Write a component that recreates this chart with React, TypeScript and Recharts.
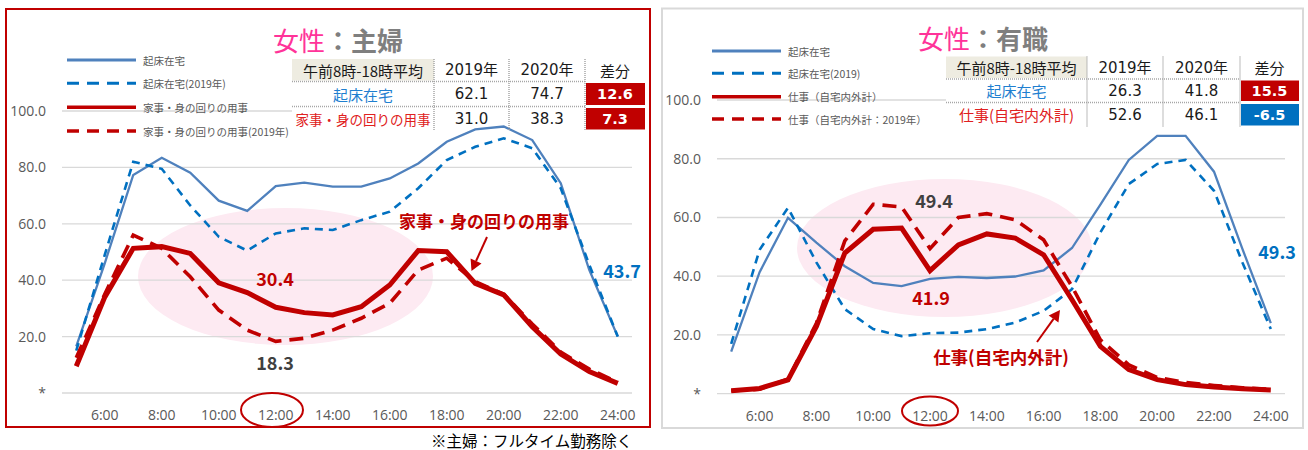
import React from "react";
import { LineChart, Line, XAxis, YAxis, CartesianGrid } from "recharts";

const HOURS = [5, 6, 7, 8, 9, 10, 11, 12, 13, 14, 15, 16, 17, 18, 19, 20, 21, 22, 23, 24];
const HOUR_TICKS = [6, 8, 10, 12, 14, 16, 18, 20, 22, 24];
const PCT_TICKS = [0, 20, 40, 60, 80, 100];

// 女性：主婦
const HW_HOME_2020 = [16.5, 46, 77.3, 83.4, 78.1, 68.2, 64.6, 73.4, 74.6, 73.2, 73.2, 76.1, 81.4, 89.1, 93.5, 94.5, 89.7, 74.4, 43.7, 20.0];
const HW_HOME_2019 = [15, 49, 82, 79.5, 66.5, 55.4, 50.5, 56.6, 58.4, 57.8, 61.3, 64.3, 72.6, 82.6, 87.3, 90.3, 86.8, 72.6, 45.5, 20];
const HW_CHORES_2020 = [9.5, 34, 51.3, 51.9, 49.5, 39.1, 35.6, 30.4, 28.5, 27.7, 30.6, 38.3, 50.5, 50.1, 38.9, 34.8, 23.5, 13.8, 7.6, 3.4];
const HW_CHORES_2019 = [12.5, 35, 56, 51.3, 41.2, 29.4, 22.3, 18.3, 19.4, 22.3, 26.5, 31.8, 43.6, 47.8, 39.5, 35, 24.5, 14.5, 8.5, 3.8];

// 女性：有職
const EMP_HOME_2020 = [14.3, 41.4, 59.9, 51.4, 43.4, 37.7, 36.6, 39.1, 39.8, 39.4, 39.9, 42, 49.6, 64.4, 79.6, 87.8, 87.8, 75.6, 49.3, 24];
const EMP_HOME_2019 = [17, 49, 63.3, 44.7, 28.8, 22, 19.6, 20.6, 20.8, 22, 24.2, 28.2, 35.6, 54.9, 71.4, 78.2, 79.6, 69.1, 44.7, 22];
const EMP_WORK_2020 = [1, 1.8, 4.7, 22.9, 47.9, 56, 56.4, 41.9, 50.7, 54.4, 53, 47.3, 32, 16.1, 8.2, 4.8, 3.1, 2.3, 1.7, 1.3];
const EMP_WORK_2019 = [1, 1.5, 5, 24, 52, 64.5, 63.6, 49.4, 60, 61.3, 59.2, 52.4, 36.5, 18.3, 9.8, 5.5, 3.8, 2.8, 2, 1.5];

const HW_LEGEND = ["起床在宅", "起床在宅(2019年)", "家事・身の回りの用事", "家事・身の回りの用事(2019年)"];
const EMP_LEGEND = ["起床在宅", "起床在宅(2019)", "仕事（自宅内外計）", "仕事（自宅内外計：2019年）"];

const TABLE_HEAD = ["午前8時-18時平均", "2019年", "2020年", "差分"];
const HW_ROWS = ["起床在宅", "家事・身の回りの用事"];
const HW_AVG_2019 = ["62.1", "31.0"];
const HW_AVG_2020 = ["74.7", "38.3"];
const HW_DIFF = ["12.6", "7.3"];
const EMP_ROWS = ["起床在宅", "仕事(自宅内外計)"];
const EMP_AVG_2019 = ["26.3", "52.6"];
const EMP_AVG_2020 = ["41.8", "46.1"];
const EMP_DIFF = ["15.5", "-6.5"];

const BLUE = "#4f81bd";
const BLUE_DASH = "#0070c0";
const RED = "#c00000";
const JP = "'Noto Sans CJK JP', sans-serif";
const NUM = "'DejaVu Sans', 'Noto Sans CJK JP', sans-serif";
const AXIS = "'Open Sans', sans-serif";

const toRows = (a: number[], b: number[], c: number[], d: number[]) =>
  HOURS.map((hour, i) => ({ hour, home: a[i], home19: b[i], act: c[i], act19: d[i] }));

const hwRows = toRows(HW_HOME_2020, HW_HOME_2019, HW_CHORES_2020, HW_CHORES_2019);
const empRows = toRows(EMP_HOME_2020, EMP_HOME_2019, EMP_WORK_2020, EMP_WORK_2019);

function Panel({ x, width, margin, rows }: any) {
  const tick = { fill: "#595959", fontSize: 14, fontFamily: AXIS };
  return (
    <div style={{ position: "absolute", left: x, top: 0 }}>
      <LineChart width={width} height={450} data={rows} margin={margin}>
        <CartesianGrid vertical={false} stroke="#d9d9d9" strokeWidth={1.3} />
        <XAxis
          dataKey="hour"
          type="number"
          domain={[4.5, 24.5]}
          ticks={HOUR_TICKS}
          tickFormatter={(h) => `${h}:00`}
          axisLine={false}
          tickLine={false}
          height={30}
          tickMargin={11}
          tick={tick}
        />
        <YAxis
          type="number"
          domain={[0, 100]}
          ticks={PCT_TICKS}
          tickFormatter={(v) => (v === 0 ? "*" : v.toFixed(1))}
          width={50}
          axisLine={false}
          tickLine={false}
          tickMargin={10}
          tick={tick}
        />
        <Line dataKey="home" stroke={BLUE} strokeWidth={2.3} dot={false} isAnimationActive={false} />
        <Line dataKey="home19" stroke={BLUE_DASH} strokeWidth={2.6} strokeDasharray="8 6" dot={false} isAnimationActive={false} />
        <Line dataKey="act19" stroke={RED} strokeWidth={3.6} strokeDasharray="14 8" dot={false} isAnimationActive={false} />
        <Line dataKey="act" stroke={RED} strokeWidth={5} dot={false} isAnimationActive={false} />
      </LineChart>
    </div>
  );
}

function Legend({ x1, x2, ys, labels }: any) {
  const styles = [
    { stroke: BLUE, w: 3, dash: undefined },
    { stroke: BLUE_DASH, w: 3, dash: "12 8" },
    { stroke: RED, w: 3.5, dash: undefined },
    { stroke: RED, w: 3.5, dash: "12 8" },
  ];
  return (
    <g>
      {labels.map((t: string, i: number) => (
        <g key={t}>
          <line x1={x1} x2={x2} y1={ys[i]} y2={ys[i]} stroke={styles[i].stroke} strokeWidth={styles[i].w} strokeDasharray={styles[i].dash} />
          <text x={x2 + 7} y={ys[i]} dominantBaseline="central" fontSize={10.5} fill="#595959" fontFamily={JP}>
            {t}
          </text>
        </g>
      ))}
    </g>
  );
}

function Table({ cols, rows, bgBottom, labels, v19, v20, diff, labelColor, labelSizes }: any) {
  const cx = (i: number) => (cols[i] + cols[i + 1]) / 2;
  const cy = (i: number) => (rows[i] + rows[i + 1]) / 2;
  const dot = { stroke: "#a6a6a6", strokeWidth: 1.5, strokeDasharray: "1 1" };
  return (
    <g>
      <rect x={cols[0]} y={rows[0]} width={cols[4] - cols[0]} height={bgBottom - rows[0]} fill="#fff" />
      <rect x={cols[0]} y={rows[0]} width={cols[1] - cols[0]} height={rows[1] - rows[0] - 1} fill="#eeece1" />
      {[1, 2, 3].map((i) => (
        <line key={"v" + i} x1={cols[i]} x2={cols[i]} y1={rows[0]} y2={rows[3]} {...dot} />
      ))}
      {[1, 2].map((i) => (
        <line key={"h" + i} x1={cols[0]} x2={cols[3]} y1={rows[i]} y2={rows[i]} {...dot} />
      ))}
      {TABLE_HEAD.map((t, i) => (
        <text key={t} x={cx(i)} y={cy(0)} textAnchor="middle" dominantBaseline="central" fontSize={15} fill="#1a1a1a" fontFamily={i === 1 || i === 2 ? NUM : JP}>
          {t}
        </text>
      ))}
      {labels.map((t: string, r: number) => (
        <g key={t}>
          <text x={cx(0)} y={cy(r + 1)} textAnchor="middle" dominantBaseline="central" fontSize={labelSizes[r]} fill={labelColor[r]} fontFamily={JP}>
            {t}
          </text>
          <text x={cx(1)} y={cy(r + 1)} textAnchor="middle" dominantBaseline="central" fontSize={15} fill="#1a1a1a" fontFamily={NUM}>
            {v19[r]}
          </text>
          <text x={cx(2)} y={cy(r + 1)} textAnchor="middle" dominantBaseline="central" fontSize={15} fill="#1a1a1a" fontFamily={NUM}>
            {v20[r]}
          </text>
          <rect x={cols[3] + 1} y={rows[r + 1] + 1.5} width={cols[4] - cols[3] - 1} height={rows[r + 2] - rows[r + 1] - 3} fill={diff[r].startsWith("-") ? BLUE_DASH : RED} />
          <text x={cx(3)} y={cy(r + 1)} textAnchor="middle" dominantBaseline="central" fontSize={14.5} fontWeight="bold" fill="#fff" fontFamily={NUM}>
            {diff[r]}
          </text>
        </g>
      ))}
    </g>
  );
}

const Callout = ({ x, y, color, children, size = 18 }: any) => (
  <text x={x} y={y} textAnchor="middle" dominantBaseline="central" fontSize={size} fontWeight="bold" fill={color} fontFamily={JP}>
    {children}
  </text>
);

function Arrow({ x1, y1, x2, y2 }: any) {
  const a = Math.atan2(y2 - y1, x2 - x1);
  const len = 11;
  const w = 6;
  const bx = x2 - len * Math.cos(a);
  const by = y2 - len * Math.sin(a);
  const px = -Math.sin(a) * w;
  const py = Math.cos(a) * w;
  return (
    <g>
      <line x1={x1} y1={y1} x2={bx} y2={by} stroke={RED} strokeWidth={2} />
      <polygon points={`${x2},${y2} ${bx + px},${by + py} ${bx - px},${by - py}`} fill={RED} />
    </g>
  );
}

export default function App() {
  const full = { position: "absolute" as const, left: 0, top: 0 };
  return (
    <div style={{ ...full, width: 1308, height: 450, background: "#fff" }}>
      <svg width={1308} height={450} style={full}>
        <ellipse cx={285.5} cy={276.5} rx={147.5} ry={68.5} fill="#fdeaf2" />
        <ellipse cx={944.5} cy={248} rx={147.5} ry={69} fill="#fdeaf2" />
      </svg>
      <Panel x={0} width={660} rows={hwRows} margin={{ top: 111, right: 28, bottom: 27, left: 12 }} />
      <Panel x={660} width={648} rows={empRows} margin={{ top: 100, right: 23, bottom: 26.3, left: 7 }} />
      <svg width={1308} height={450} style={full}>
        <rect x={6} y={9} width={644} height={418} fill="none" stroke={RED} strokeWidth={2} />
        <rect x={662} y={8.5} width={641} height={419.5} fill="none" stroke="#d9d9d9" strokeWidth={2} />

        <text x={273} y={39} dominantBaseline="central" fontSize={26} fontFamily={JP}>
          <tspan fill="#ff3399">女性</tspan>
          <tspan fill="#7f7f7f" fontWeight="bold">：主婦</tspan>
        </text>
        <text x={918} y={37} dominantBaseline="central" fontSize={26} fontFamily={JP}>
          <tspan fill="#ff3399">女性</tspan>
          <tspan fill="#7f7f7f" fontWeight="bold">：有職</tspan>
        </text>

        <Legend x1={67} x2={136} ys={[60, 83.3, 107.3, 131]} labels={HW_LEGEND} />
        <Legend x1={712} x2={781} ys={[51, 73.3, 96.7, 119]} labels={EMP_LEGEND} />

        {/* left table background stops above the 20:00 peak of the line below it */}
        <Table cols={[292, 434, 509, 585, 645]} rows={[59, 81.5, 106.5, 131]} bgBottom={116} labels={HW_ROWS} v19={HW_AVG_2019} v20={HW_AVG_2020} diff={HW_DIFF} labelColor={["#1f7fd0", "#e02020"]} labelSizes={[15, 13.5]} />
        <Table cols={[946, 1087, 1163, 1240, 1299]} rows={[56.5, 79, 102.5, 127]} bgBottom={127} labels={EMP_ROWS} v19={EMP_AVG_2019} v20={EMP_AVG_2020} diff={EMP_DIFF} labelColor={["#1f7fd0", "#e02020"]} labelSizes={[15, 15]} />

        <Callout x={484} y={220} color={RED} size={17}>家事・身の回りの用事</Callout>
        <Arrow x1={487} y1={237} x2={471.5} y2={271} />
        <Callout x={275} y={278} color={RED}>30.4</Callout>
        <Callout x={275} y={362} color="#404040">18.3</Callout>
        <Callout x={622} y={270} color={BLUE_DASH}>43.7</Callout>
        <ellipse cx={272} cy={410} rx={31} ry={17} fill="none" stroke={RED} strokeWidth={2} />

        <Callout x={934} y={200} color="#404040">49.4</Callout>
        <Callout x={931} y={297} color={RED}>41.9</Callout>
        <Callout x={1001} y={356} color={RED} size={17.5}>仕事(自宅内外計)</Callout>
        <Arrow x1={1037} y1={342} x2={1060} y2={310} />
        <Callout x={1277} y={251} color={BLUE_DASH}>49.3</Callout>
        <ellipse cx={930} cy={411} rx={28} ry={14.5} fill="none" stroke={RED} strokeWidth={2} />

        <text x={431} y={439.5} dominantBaseline="central" fontSize={15.5} fill="#000" fontFamily={JP}>
          ※主婦：フルタイム勤務除く
        </text>
      </svg>
    </div>
  );
}
